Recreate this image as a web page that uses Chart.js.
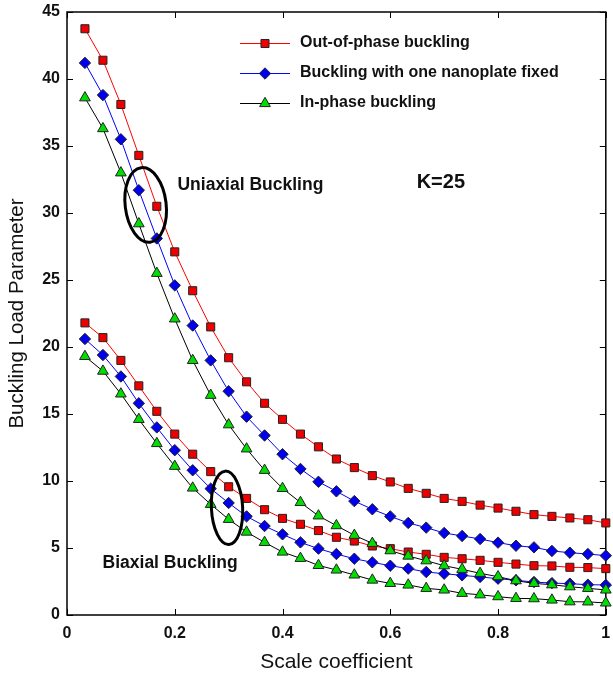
<!DOCTYPE html>
<html>
<head>
<meta charset="utf-8">
<script src="https://cdn.jsdelivr.net/npm/chart.js@4.4.1/dist/chart.umd.min.js"></script>
<style>
  html, body { margin: 0; padding: 0; background: #fff; }
</style>
</head>
<body>
<canvas id="buckling" width="613" height="676"></canvas>
<script>
// scale coefficient (x) values
const scaleCoef = [0.0333, 0.0667, 0.1, 0.1333, 0.1667, 0.2, 0.2333, 0.2667, 0.3, 0.3333,
  0.3667, 0.4, 0.4333, 0.4667, 0.5, 0.5333, 0.5667, 0.6, 0.6333, 0.6667,
  0.7, 0.7333, 0.7667, 0.8, 0.8333, 0.8667, 0.9, 0.9333, 0.9667, 1.0];

// uniaxial buckling
const uniOutPhase = [43.75, 41.4, 38.1, 34.3, 30.5, 27.1, 24.2, 21.5, 19.2, 17.4,
  15.8, 14.6, 13.5, 12.55, 11.64, 11.0, 10.4, 9.93, 9.45, 9.08,
  8.7, 8.48, 8.2, 7.98, 7.74, 7.49, 7.36, 7.24, 7.11, 6.87];
const uniOneFixed = [41.2, 38.8, 35.5, 31.7, 28.1, 24.6, 21.6, 19.0, 16.7, 14.8,
  13.4, 12.0, 10.9, 9.94, 9.23, 8.5, 7.89, 7.36, 6.87, 6.52,
  6.12, 5.9, 5.67, 5.4, 5.17, 5.05, 4.78, 4.65, 4.55, 4.43];
const uniInPhase = [38.6, 36.3, 33.0, 29.2, 25.5, 22.1, 19.0, 16.4, 14.2, 12.4,
  10.8, 9.45, 8.4, 7.4, 6.67, 5.95, 5.35, 4.8, 4.4, 4.05,
  3.68, 3.41, 3.11, 2.86, 2.56, 2.36, 2.26, 2.11, 1.99, 1.87];

// biaxial buckling
const biOutPhase = [21.8, 20.7, 19.0, 17.1, 15.2, 13.5, 12.0, 10.7, 9.57, 8.7,
  7.86, 7.21, 6.77, 6.3, 5.8, 5.52, 5.15, 4.95, 4.7, 4.53,
  4.3, 4.2, 4.08, 3.93, 3.8, 3.68, 3.66, 3.56, 3.54, 3.46];
const biOneFixed = [20.6, 19.4, 17.8, 15.8, 14.0, 12.3, 10.8, 9.43, 8.36, 7.36,
  6.64, 6.02, 5.42, 4.95, 4.55, 4.2, 3.93, 3.68, 3.46, 3.21,
  3.08, 2.96, 2.84, 2.71, 2.59, 2.46, 2.38, 2.34, 2.26, 2.24];
const biInPhase = [19.3, 18.2, 16.5, 14.6, 12.8, 11.1, 9.48, 8.26, 7.14, 6.19,
  5.42, 4.7, 4.23, 3.7, 3.36, 2.99, 2.61, 2.36, 2.24, 1.99,
  1.87, 1.62, 1.51, 1.37, 1.24, 1.22, 1.12, 0.99, 0.98, 0.9];

const legendLabels = ['Out-of-phase buckling', 'Buckling with one nanoplate fixed', 'In-phase buckling'];
const xTicks = [0, 0.2, 0.4, 0.6, 0.8, 1];
const yTicks = [0, 5, 10, 15, 20, 25, 30, 35, 40, 45];

const FONT = "'Liberation Sans', Arial, sans-serif";

// marker styles for the three buckling modes
const styles = [
  { line: '#ff0000', fill: '#ee0000', pointStyle: 'rect', radius: 5.7 },
  { line: '#0000ff', fill: '#0000ee', pointStyle: 'rectRot', radius: 5.7 },
  { line: '#000000', fill: '#00dd00', pointStyle: 'triangle', radius: 6.2 }
];

function toPoints(arr) {
  return arr.map((v, i) => ({ x: scaleCoef[i], y: v }));
}

function makeDataset(label, values, st) {
  return {
    label: label,
    data: toPoints(values),
    borderColor: st.line,
    borderWidth: 1,
    backgroundColor: st.fill,
    pointBackgroundColor: st.fill,
    pointBorderColor: '#222',
    pointBorderWidth: 1,
    pointStyle: st.pointStyle,
    pointRadius: st.radius,
    pointHoverRadius: st.radius,
    tension: 0,
    clip: false
  };
}

const datasets = [
  makeDataset(legendLabels[0], uniOutPhase, styles[0]),
  makeDataset(legendLabels[1], uniOneFixed, styles[1]),
  makeDataset(legendLabels[2], uniInPhase, styles[2]),
  makeDataset(legendLabels[0] + ' (biaxial)', biOutPhase, styles[0]),
  makeDataset(legendLabels[1] + ' (biaxial)', biOneFixed, styles[1]),
  makeDataset(legendLabels[2] + ' (biaxial)', biInPhase, styles[2])
];

// frame around the plot and inward ticks on all four sides
const framePlugin = {
  id: 'frame',
  beforeDatasetsDraw(chart) {
    const { ctx, chartArea: a, scales } = chart;
    ctx.save();
    ctx.strokeStyle = '#000';
    ctx.lineWidth = 1.5;
    ctx.strokeRect(a.left, a.top, a.right - a.left, a.bottom - a.top);
    ctx.lineWidth = 1;
    const len = 6;
    ctx.beginPath();
    xTicks.forEach(v => {
      const px = Math.round(scales.x.getPixelForValue(v)) + 0.5;
      ctx.moveTo(px, a.bottom); ctx.lineTo(px, a.bottom - len);
      ctx.moveTo(px, a.top); ctx.lineTo(px, a.top + len);
    });
    yTicks.forEach(v => {
      const py = Math.round(scales.y.getPixelForValue(v)) + 0.5;
      ctx.moveTo(a.left, py); ctx.lineTo(a.left + len, py);
      ctx.moveTo(a.right, py); ctx.lineTo(a.right - len, py);
    });
    ctx.stroke();
    ctx.restore();
  }
};

// text notes and ellipses, placed in data units
const notes = [
  { text: 'Uniaxial Buckling', x: 0.205, y: 32.1, size: 17.5 },
  { text: 'K=25', x: 0.649, y: 32.3, size: 20 },
  { text: 'Biaxial Buckling', x: 0.066, y: 3.9, size: 17.5 }
];
const ellipses = [
  { x: 0.146, y: 30.6, rx: 0.038, ry: 2.8, rot: -0.12 },
  { x: 0.297, y: 8.0, rx: 0.029, ry: 2.74, rot: -0.05 }
];

const notesPlugin = {
  id: 'notes',
  afterDatasetsDraw(chart) {
    const { ctx, chartArea: a, scales } = chart;
    const sx = scales.x, sy = scales.y;
    ctx.save();
    ctx.strokeStyle = '#000';
    ctx.lineWidth = 3;
    ellipses.forEach(e => {
      const cx = sx.getPixelForValue(e.x), cy = sy.getPixelForValue(e.y);
      const rx = sx.getPixelForValue(e.x + e.rx) - cx;
      const ry = cy - sy.getPixelForValue(e.y + e.ry);
      ctx.beginPath();
      ctx.ellipse(cx, cy, rx, ry, e.rot, 0, Math.PI * 2);
      ctx.stroke();
    });
    ctx.fillStyle = '#111';
    ctx.textBaseline = 'middle';
    ctx.textAlign = 'left';
    notes.forEach(n => {
      ctx.font = 'bold ' + n.size + 'px ' + FONT;
      ctx.fillText(n.text, sx.getPixelForValue(n.x), sy.getPixelForValue(n.y));
    });

    // legend box (top right)
    const lx = a.left + 173, tx = a.left + 233;
    const rows = [a.top + 31, a.top + 61, a.top + 91];
    ctx.font = 'bold 16px ' + FONT;
    for (let i = 0; i < 3; i++) {
      const st = styles[i];
      const y = rows[i];
      ctx.strokeStyle = st.line;
      ctx.lineWidth = 1;
      ctx.beginPath();
      ctx.moveTo(lx, y + 0.5);
      ctx.lineTo(lx + 50, y + 0.5);
      ctx.stroke();
      ctx.fillStyle = st.fill;
      ctx.strokeStyle = '#222';
      Chart.helpers.drawPoint(ctx, { pointStyle: st.pointStyle, radius: st.radius, rotation: 0, borderWidth: 1 }, lx + 25, y + 0.5);
      ctx.fillStyle = '#111';
      ctx.fillText(legendLabels[i], tx, y);
    }
    ctx.restore();
  }
};

new Chart(document.getElementById('buckling'), {
  type: 'line',
  data: { datasets: datasets },
  options: {
    responsive: false,
    animation: false,
    layout: { padding: { top: 12, right: 3, left: 0, bottom: 0 } },
    plugins: {
      legend: { display: false },
      tooltip: { enabled: false }
    },
    scales: {
      x: {
        type: 'linear',
        min: 0,
        max: 1,
        afterBuildTicks: axis => { axis.ticks = xTicks.map(v => ({ value: v })); },
        afterFit: axis => {
          axis.height = 61;
          axis.paddingLeft = 0;
          axis.paddingRight = 0;
        },
        grid: { display: false, drawTicks: false },
        border: { display: false },
        ticks: {
          color: '#111',
          padding: 9,
          font: { family: FONT, size: 16, weight: 'bold' },
          maxRotation: 0,
          callback: v => String(v)
        },
        title: {
          display: true,
          text: 'Scale coefficient',
          color: '#111',
          font: { family: FONT, size: 21 },
          padding: { top: 0, bottom: 1.5 }
        }
      },
      y: {
        min: 0,
        max: 45,
        afterBuildTicks: axis => { axis.ticks = yTicks.map(v => ({ value: v })); },
        afterFit: axis => {
          axis.width = 67;
          axis.paddingTop = 0;
          axis.paddingBottom = 0;
        },
        grid: { display: false, drawTicks: false },
        border: { display: false },
        ticks: {
          color: '#111',
          padding: 7,
          font: { family: FONT, size: 16, weight: 'bold' }
        },
        title: {
          display: true,
          text: 'Buckling Load Parameter',
          color: '#111',
          font: { family: FONT, size: 20.5 },
          padding: { top: 5, bottom: 0 }
        }
      }
    }
  },
  plugins: [framePlugin, notesPlugin]
});
</script>
</body>
</html>
